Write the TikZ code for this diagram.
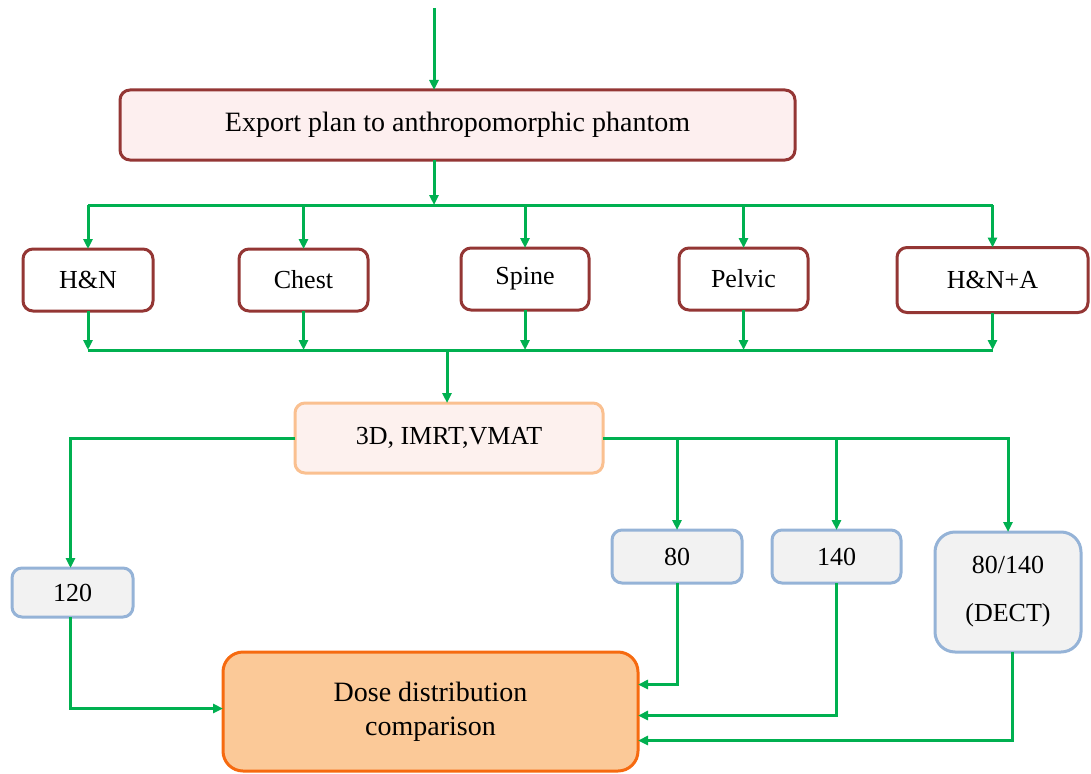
\documentclass[tikz,border=0pt]{standalone}
\usepackage{fontspec}
\setmainfont{Liberation Serif}
\usetikzlibrary{arrows.meta}
\definecolor{grn}{HTML}{00B050}
\definecolor{dred}{HTML}{943634}
\definecolor{pinkf}{HTML}{FDEFEF}
\definecolor{techd}{HTML}{FAC090}
\definecolor{techf}{HTML}{FDF1EE}
\definecolor{blued}{HTML}{95B3D7}
\definecolor{bluef}{HTML}{F2F2F2}
\definecolor{dosed}{HTML}{F66A10}
\definecolor{dosef}{HTML}{FBC998}
\tikzset{
  box/.style={rectangle, rounded corners=10pt, line width=3pt, inner sep=0pt, outer sep=0pt, align=center, font=\fontsize{26}{30}\selectfont},
  redbox/.style={box, draw=dred, fill=white},
  bluebox/.style={box, draw=blued, fill=bluef},
  conn/.style={draw=grn, line width=3pt},
  arr/.style={conn, -{Triangle[length=10pt,width=9pt]}},
}
\begin{document}
\begin{tikzpicture}[x=1pt,y=-1pt]
\useasboundingbox (0,0) rectangle (1091,773);
% nodes
\node[redbox, fill=pinkf, minimum width=675pt, minimum height=70pt, font=\fontsize{28}{32}\selectfont] (exp) at (457.5,125) {Export plan to anthropomorphic phantom};
\node[redbox, minimum width=130pt, minimum height=62pt] (hn) at (88,280) {H\&N};
\node[redbox, minimum width=129pt, minimum height=62pt] (chest) at (303.5,280) {Chest};
\node[redbox, minimum width=128pt, minimum height=62pt] (spine) at (525,279) {Spine};
\node[redbox, minimum width=129pt, minimum height=62pt] (pelvic) at (743.5,279) {Pelvic};
\node[redbox, minimum width=191pt, minimum height=65pt] (hna) at (992.5,280) {H\&N+A};
\node[box, draw=techd, fill=techf, minimum width=308pt, minimum height=70pt] (tech) at (449,438) {3D, IMRT,VMAT};
\node[bluebox, minimum width=121pt, minimum height=49pt] (k120) at (72.5,592.5) {120};
\node[bluebox, minimum width=130pt, minimum height=53pt] (k80) at (677,556.5) {80};
\node[bluebox, minimum width=129pt, minimum height=53pt] (k140) at (836.5,556.5) {140};
\node[bluebox, rounded corners=20pt, minimum width=146pt, minimum height=120pt] (dect) at (1008,592) {80/140\\[18pt](DECT)};
\node[box, draw=dosed, fill=dosef, rounded corners=20pt, minimum width=415pt, minimum height=119pt, font=\fontsize{28}{34}\selectfont] (dose) at (430.5,711.5) {Dose distribution\\comparison};
% connectors
\coordinate (start) at (434,8);
\coordinate (busA) at (434,205);
\coordinate (busB) at (447,350);
\draw[arr] (start) -- (start |- exp.north);
\draw[arr] (start |- exp.south) -- (busA);
\draw[conn] (hn.north |- busA) -- (hna.north |- busA);
\foreach \n in {hn,chest,spine,pelvic,hna}{
  \draw[arr] (\n.north |- busA) -- (\n.north);
  \draw[arr] (\n.south) -- (\n.south |- busB);
}
\draw[conn] (hn.south |- busB) -- (hna.south |- busB);
\draw[arr] (busB) -- (busB |- tech.north);
\draw[arr] (tech.west) -| ([xshift=-2pt]k120.north);
\draw[arr] (tech.east) -| (dect.north);
\draw[arr] (k80.north |- tech.east) -- (k80.north);
\draw[arr] (k140.north |- tech.east) -- (k140.north);
\draw[arr] ([xshift=-2pt]k120.south) |- ([yshift=3pt]dose.west);
\draw[arr] (k80.south) |- ([yshift=27pt]dose.east);
\draw[arr] (k140.south) |- ([yshift=-4pt]dose.east);
\draw[arr] ([xshift=4pt]dect.south) |- ([yshift=-29pt]dose.east);
\end{tikzpicture}
\end{document}
